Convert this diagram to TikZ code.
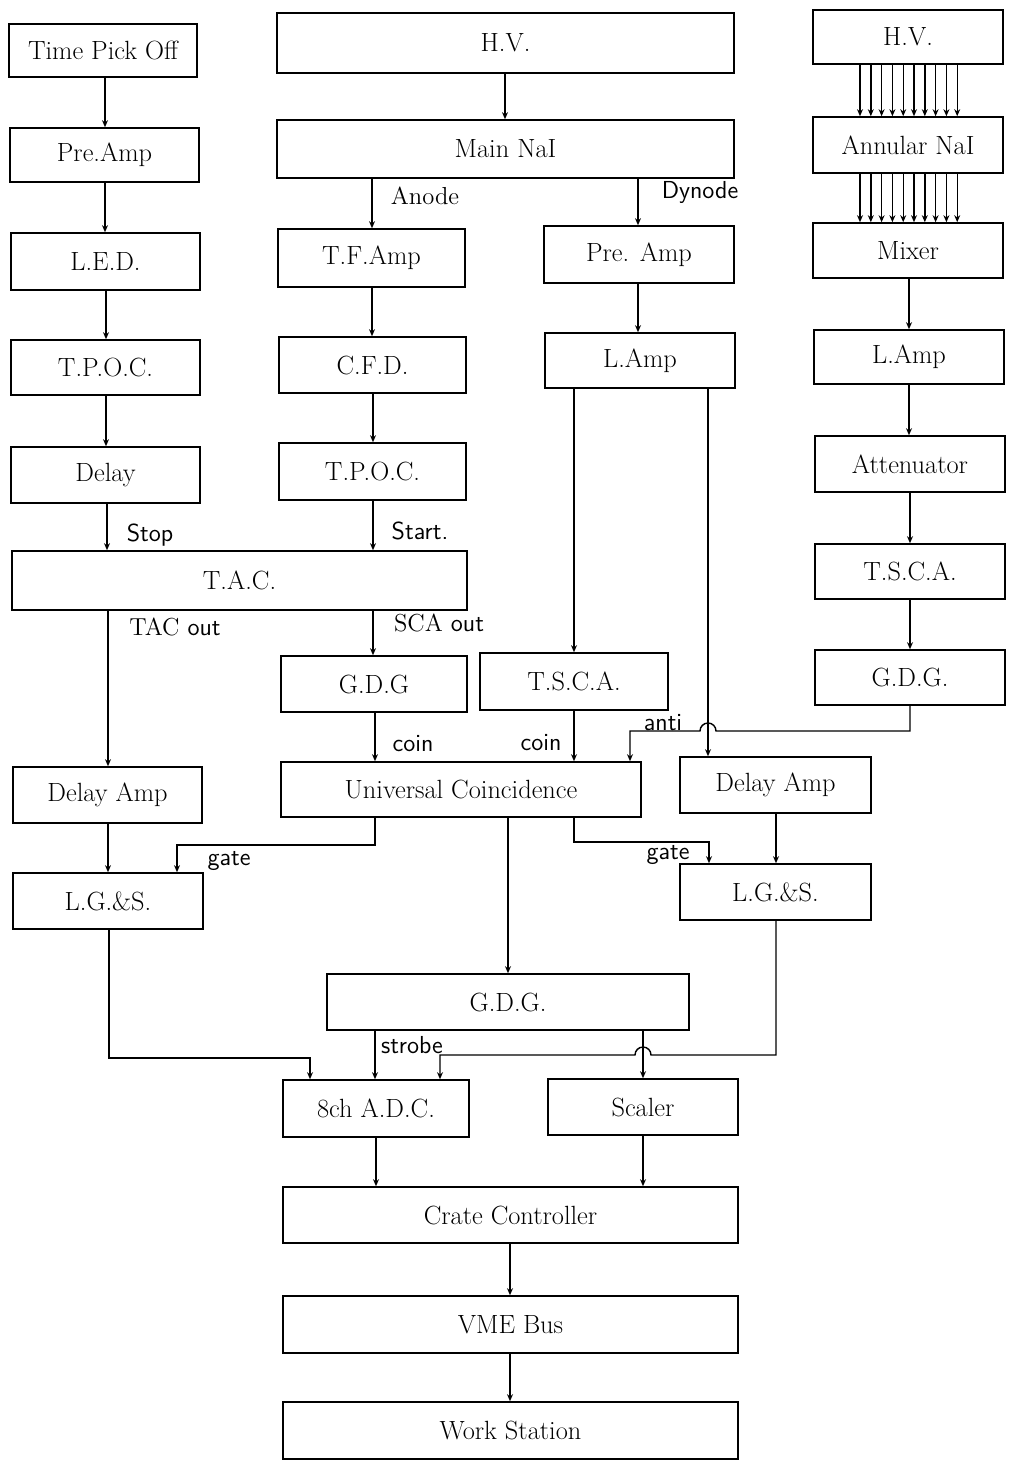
\documentclass[tikz,border=0pt]{standalone}
\usetikzlibrary{arrows.meta}
\newcommand\bx[6]{\node[box,minimum width={(#4-#2)*0.02cm},minimum height={(#5-#3)*0.02cm}] (#1) at ({(#2+#4)/2},{(#3+#5)/2}) {#6};}
\begin{document}
\begin{tikzpicture}[x=0.02cm,y=-0.02cm,
 box/.style={draw,line width=0.9pt,inner sep=0pt,font=\fontsize{15}{18}\selectfont},
 arr/.style={line width=0.8pt,-{Stealth[length=4pt,width=3.4pt]}},
 lbl/.style={font=\fontsize{14}{16}\selectfont,inner sep=0pt},
 slbl/.style={font=\sffamily\fontsize{14}{16}\selectfont,inner sep=0pt}]
\useasboundingbox[fill=white] (0,0) rectangle (1011,1467);
% left column
\bx{tpo}{9}{24}{197}{77}{Time Pick Off}
\bx{preL}{10}{128}{199}{182}{Pre.Amp}
\bx{led}{11}{233}{200}{290}{L.E.D.}
\bx{tpocL}{11}{340}{200}{395}{T.P.O.C.}
\bx{delay}{11}{447}{200}{503}{Delay}
\bx{tac}{12}{551}{467}{610}{T.A.C.}
\bx{damL}{13}{767}{202}{823}{Delay Amp}
\bx{lgsL}{13}{873}{203}{929}{L.G.\&S.}
% middle
\bx{hvM}{277}{13}{734}{73}{H.V.}
\bx{nai}{277}{120}{734}{178}{Main NaI}
\bx{tfa}{278}{229}{465}{287}{T.F.Amp}
\bx{cfd}{279}{337}{466}{393}{C.F.D.}
\bx{tpocM}{279}{443}{466}{500}{T.P.O.C.}
\bx{gdgM}{281}{656}{467}{712}{G.D.G}
\bx{tscaM}{480}{653}{668}{710}{T.S.C.A.}
\bx{uc}{281}{762}{641}{817}{Universal Coincidence}
\bx{preD}{544}{226}{734}{283}{Pre. Amp}
\bx{lampM}{545}{333}{735}{388}{L.Amp}
\bx{damR}{680}{757}{871}{813}{Delay Amp}
\bx{lgsR}{680}{864}{871}{920}{L.G.\&S.}
\bx{gdgB}{327}{974}{689}{1030}{G.D.G.}
\bx{adc}{283}{1080}{469}{1137}{8ch A.D.C.}
\bx{scal}{548}{1079}{738}{1135}{Scaler}
\bx{crate}{283}{1187}{738}{1243}{Crate Controller}
\bx{vme}{283}{1296}{738}{1353}{VME Bus}
\bx{ws}{283}{1402}{738}{1459}{Work Station}
% right
\bx{hvR}{813}{10}{1003}{64}{H.V.}
\bx{ann}{813}{117}{1003}{173}{Annular NaI}
\bx{mix}{813}{223}{1003}{278}{Mixer}
\bx{lampR}{814}{330}{1004}{384}{L.Amp}
\bx{att}{815}{436}{1005}{492}{Attenuator}
\bx{tscaR}{815}{544}{1005}{599}{T.S.C.A.}
\bx{gdgR}{815}{650}{1005}{705}{G.D.G.}
% left chain
\draw[arr] (tpo.south -| 105,0) -- (preL.north -| 105,0);
\draw[arr] (preL.south -| 105,0) -- (led.north -| 105,0);
\draw[arr] (led.south -| 106,0) -- (tpocL.north -| 106,0);
\draw[arr] (tpocL.south -| 106,0) -- (delay.north -| 106,0);
\draw[arr] (delay.south -| 107,0) -- (tac.north -| 107,0);
\draw[arr] (tac.south -| 108,0) -- (damL.north -| 108,0);
\draw[arr] (damL.south -| 108,0) -- (lgsL.north -| 108,0);
\draw[arr] (lgsL.south -| 109,0) |- (310,1058) -- (adc.north -| 310,0);
% middle chain
\draw[arr] (hvM.south -| 505,0) -- (nai.north -| 505,0);
\draw[arr] (nai.south -| 372,0) -- (tfa.north -| 372,0);
\draw[arr] (nai.south -| 638,0) -- (preD.north -| 638,0);
\draw[arr] (tfa.south -| 372,0) -- (cfd.north -| 372,0);
\draw[arr] (cfd.south -| 373,0) -- (tpocM.north -| 373,0);
\draw[arr] (tpocM.south -| 373,0) -- (tac.north -| 373,0);
\draw[arr] (tac.south -| 373,0) -- (gdgM.north -| 373,0);
\draw[arr] (gdgM.south -| 375,0) -- (uc.north -| 375,0);
\draw[arr] (tscaM.south -| 574,0) -- (uc.north -| 574,0);
\draw[arr] (preD.south -| 638,0) -- (lampM.north -| 638,0);
\draw[arr] (lampM.south -| 574,0) -- (tscaM.north -| 574,0);
\draw[arr] (lampM.south -| 708,0) -- (damR.north -| 708,0);
\draw[arr] (gdgR.south -| 910,0) |- (716,731) arc[start angle=0,end angle=180,radius=0.16cm] -- (630,731) -- (uc.north -| 630,0);
\draw[arr] (uc.south -| 375,0) |- (177,845) -- (lgsL.north -| 177,0);
\draw[arr] (uc.south -| 508,0) -- (gdgB.north -| 508,0);
\draw[arr] (uc.south -| 574,0) |- (709,842) -- (lgsR.north -| 709,0);
\draw[arr] (damR.south -| 776,0) -- (lgsR.north -| 776,0);
\draw[arr] (lgsR.south -| 776,0) |- (651,1055) arc[start angle=0,end angle=180,radius=0.16cm] -- (440,1055) -- (adc.north -| 440,0);
\draw[arr] (gdgB.south -| 375,0) -- (adc.north -| 375,0);
\draw[arr] (gdgB.south -| 643,0) -- (scal.north -| 643,0);
\draw[arr] (adc.south -| 376,0) -- (crate.north -| 376,0);
\draw[arr] (scal.south -| 643,0) -- (crate.north -| 643,0);
\draw[arr] (crate.south -| 510,0) -- (vme.north -| 510,0);
\draw[arr] (vme.south -| 510,0) -- (ws.north -| 510,0);
% right chain
\foreach \i in {0,...,9}{
  \pgfmathsetmacro\xx{860+\i*10.8}
  \draw[arr] (hvR.south -| \xx,0) -- (ann.north -| \xx,0);
  \draw[arr] (ann.south -| \xx,0) -- (mix.north -| \xx,0);
}
\draw[arr] (mix.south -| 909,0) -- (lampR.north -| 909,0);
\draw[arr] (lampR.south -| 909,0) -- (att.north -| 909,0);
\draw[arr] (att.south -| 910,0) -- (tscaR.north -| 910,0);
\draw[arr] (tscaR.south -| 910,0) -- (gdgR.north -| 910,0);
% labels
\node[slbl] (lstop) at (150,535) {Stop};
\node[slbl] (lstart) at (420,531) {Start.};
\node[lbl] (ltac) at (175,627) {TAC \textsf{out}};
\node[lbl] (lsca) at (439,623) {SCA \textsf{out}};
\node[lbl] (lanode) at (425,196) {Anode};
\node[slbl] (ldyn) at (700,192) {Dynode};
\node[slbl] (lcoin1) at (413,744) {coin};
\node[slbl] (lcoin2) at (541,743) {coin};
\node[slbl] (lanti) at (663,723) {anti};
\node[slbl] (lgate1) at (229,861) {gate};
\node[slbl] (lgate2) at (668,855) {gate};
\node[slbl] (lstrobe) at (412,1045) {strobe};
\end{tikzpicture}
\end{document}
